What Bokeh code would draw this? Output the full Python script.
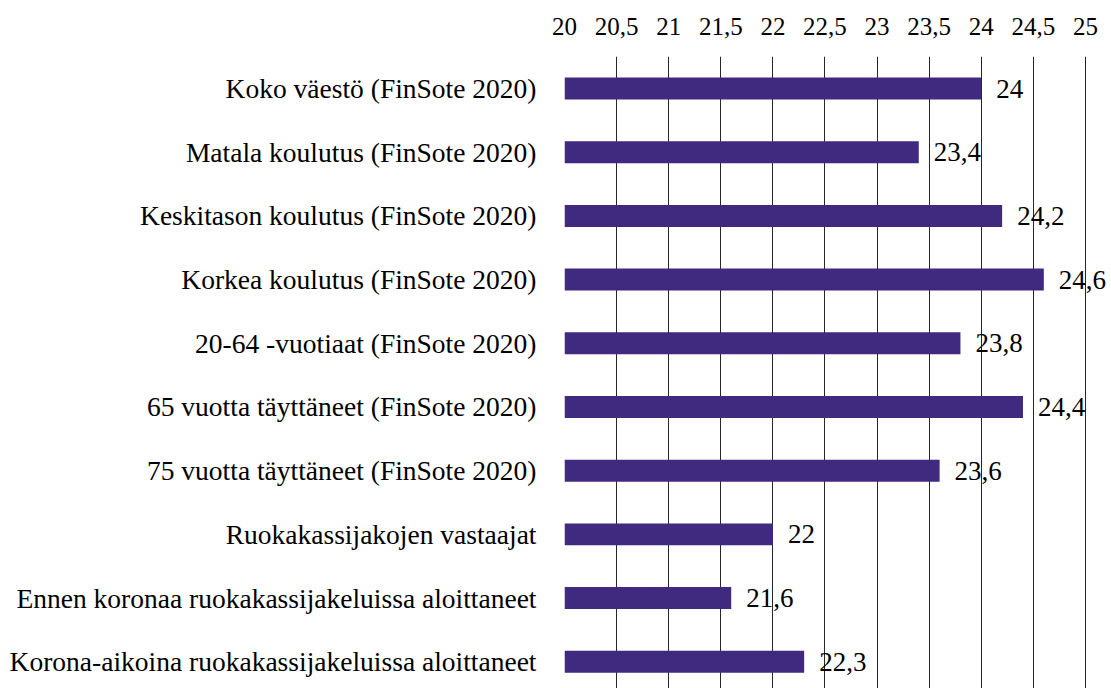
from bokeh.plotting import figure
from bokeh.models import ColumnDataSource, Range1d, FixedTicker, LabelSet
from bokeh.embed import file_html
from bokeh.resources import INLINE

categories = [
    "Koko väestö (FinSote 2020)",
    "Matala koulutus (FinSote 2020)",
    "Keskitason koulutus (FinSote 2020)",
    "Korkea koulutus (FinSote 2020)",
    "20-64 -vuotiaat (FinSote 2020)",
    "65 vuotta täyttäneet (FinSote 2020)",
    "75 vuotta täyttäneet (FinSote 2020)",
    "Ruokakassijakojen vastaajat",
    "Ennen koronaa ruokakassijakeluissa aloittaneet",
    "Korona-aikoina ruokakassijakeluissa aloittaneet",
]
values = [24, 23.4, 24.2, 24.6, 23.8, 24.4, 23.6, 22, 21.6, 22.3]
x_ticks = [20, 20.5, 21, 21.5, 22, 22.5, 23, 23.5, 24, 24.5, 25]

def fi(v):
    s = ("%g" % v)
    return s.replace(".", ",")

pos = list(range(len(categories)))
src = ColumnDataSource(dict(
    y=pos,
    left=[x_ticks[0]] * len(values),
    right=values,
    lab=[fi(v) for v in values],
))

FONT = "Liberation Serif"

p = figure(width=1110, height=688, output_backend="svg", toolbar_location=None,
           x_axis_location="above",
           x_range=Range1d(x_ticks[0], x_ticks[-1] + 0.24),
           y_range=Range1d(9.42, -0.503))
p.min_border_left = 564
p.min_border_right = 0
p.min_border_top = 56
p.min_border_bottom = 0
p.outline_line_color = None
p.background_fill_color = "white"

p.hbar(y="y", left="left", right="right", height=0.345, source=src,
       fill_color="#402a80", line_color=None)

labels = LabelSet(x="right", y="y", text="lab", source=src, x_offset=15,
                  text_baseline="middle", text_align="left",
                  text_font=FONT, text_font_size="27px", text_color="black")
p.add_layout(labels)

# x axis on top
xa = p.xaxis[0]
xa.ticker = FixedTicker(ticks=x_ticks)
xa.major_label_overrides = {t: fi(t) for t in x_ticks}
xa.axis_line_color = None
xa.major_tick_line_color = None
xa.minor_tick_line_color = None
xa.major_label_text_font = FONT
xa.major_label_text_font_size = "25px"
xa.major_label_text_color = "black"
xa.major_label_standoff = 16

ya = p.yaxis[0]
ya.ticker = FixedTicker(ticks=pos)
ya.major_label_overrides = {i: c for i, c in enumerate(categories)}
ya.axis_line_color = None
ya.major_tick_line_color = None
ya.minor_tick_line_color = None
ya.major_label_text_font = FONT
ya.major_label_text_font_size = "27.5px"
ya.major_label_text_color = "black"
ya.major_label_standoff = 22

p.xgrid.ticker = FixedTicker(ticks=x_ticks)
p.xgrid.grid_line_color = "black"
p.xgrid.grid_line_width = 1
p.xgrid.grid_line_alpha = 0.85
p.ygrid.grid_line_color = None

open("out.html", "w").write(file_html(p, INLINE))
